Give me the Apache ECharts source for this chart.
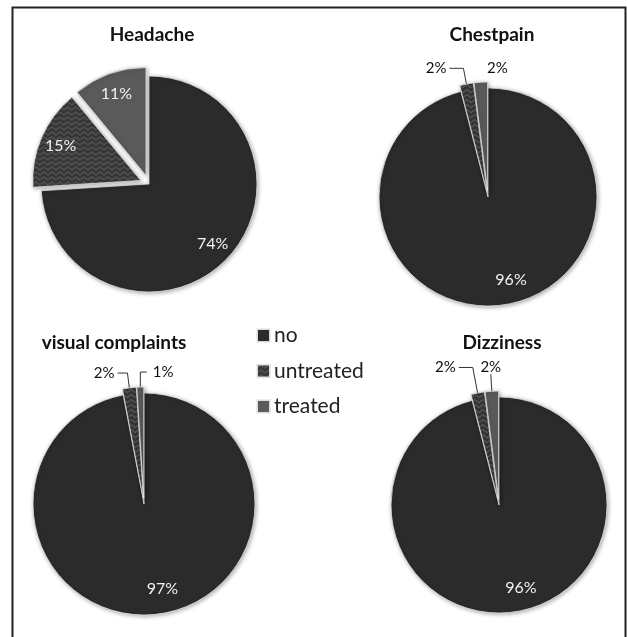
<!DOCTYPE html>
<html>
<head>
<meta charset="utf-8">
<script src="https://cdn.jsdelivr.net/npm/echarts@6/dist/echarts.min.js"></script>
<style>
html,body{margin:0;padding:0;background:#fff;}
#c{width:628px;height:637px;}
</style>
</head>
<body>
<div id="c"></div>
<script>
// ---- data ----
const categories = ['no', 'untreated', 'treated'];
const headache = [74, 15, 11];
const chestpain = [96, 2, 2];
const visual = [97, 2, 1];
const dizziness = [96, 2, 2];
const titles = ['Headache', 'Chestpain', 'visual complaints', 'Dizziness'];

// ---- styles ----
const FONT = 'Lato, "Open Sans", sans-serif';
function zigzag() {
  const cv = document.createElement('canvas');
  cv.width = 8; cv.height = 5;
  const g = cv.getContext('2d');
  g.fillStyle = '#363636'; g.fillRect(0, 0, 8, 5);
  g.strokeStyle = '#6e6e6e'; g.lineWidth = 1;
  g.beginPath(); g.moveTo(0, 3.5); g.lineTo(4, 0.5); g.lineTo(8, 3.5); g.stroke();
  return cv;
}
const colors = ['#2b2b2b', {image: zigzag(), repeat: 'repeat'}, '#5a5a5a'];

const pies = [
  {values: headache, center: [149, 184], r: 108, offset: 9, selected: [false, true, true], outside: {}, inShift: [0, 0]},
  {values: chestpain, center: [488, 197], r: 109, offset: 6, selected: [false, true, true], inShift: [12, -4],
    outside: {1: {len: 16, len2: 14, line: true}, 2: {len: 7, len2: 0, line: false, center: true, dx: 20}}},
  {values: visual, center: [144, 504], r: 111, offset: 6, selected: [false, true, true], inShift: [10, -4],
    outside: {1: {len: 15, len2: 10, line: true}, 2: {len: 15, len2: -7, line: true, right: true}}},
  {values: dizziness, center: [499, 505], r: 108, offset: 6, selected: [false, true, true], inShift: [11, -4],
    outside: {1: {len: 26, len2: 14, line: true}, 2: {len: 17, len2: 0, line: true, center: true, dx: 3}}}
];

const series = [];
pies.forEach(function (p) {
  const mainData = p.values.map(function (v, i) {
    const o = p.outside[i];
    return {
      name: categories[i], value: v, selected: p.selected[i],
      itemStyle: {color: colors[i]},
      label: {show: !!o},
      labelLine: o ? {show: o.line, length: o.len, length2: o.len2} : {show: false}
    };
  });
  series.push({
    type: 'pie', center: p.center, radius: [0, p.r], startAngle: 90, clockwise: true,
    selectedMode: 'multiple', selectedOffset: p.offset, avoidLabelOverlap: false,
    emphasis: {disabled: true}, silent: true, animation: false,
    itemStyle: {borderColor: 'rgba(235,235,235,0.9)', borderWidth: 0.8,
      shadowBlur: 4, shadowColor: 'rgba(0,0,0,0.35)', shadowOffsetX: 1, shadowOffsetY: 1},
    label: {position: 'outside', formatter: '{c}%', color: '#111', fontSize: 15, fontFamily: FONT, distanceToLabelLine: 3},
    labelLine: {lineStyle: {color: '#333', width: 1}},
    labelLayout: function (params) {
      const o = p.outside[params.dataIndex];
      if (!o) return {};
      if (o.center) return {align: 'center', verticalAlign: 'bottom', dx: o.dx || 0};
      if (o.right) return {align: 'left', dx: 9};
      return {};
    },
    data: mainData
  });
  // label ring (inner labels only)
  series.push({
    type: 'pie', center: p.center, radius: [p.r * 0.56, p.r], startAngle: 90, clockwise: true,
    selectedMode: 'multiple', selectedOffset: p.offset, avoidLabelOverlap: false,
    emphasis: {disabled: true}, silent: true, animation: false,
    itemStyle: {color: 'rgba(0,0,0,0)'},
    label: {position: 'inside', formatter: '{c}%', color: '#f2f2f2', fontSize: 16, fontFamily: FONT},
    labelLine: {show: false},
    labelLayout: function (params) {
      return params.dataIndex === 0 ? {dx: p.inShift[0], dy: p.inShift[1]} : {};
    },
    data: p.values.map(function (v, i) {
      return {name: categories[i], value: v, selected: p.selected[i],
        label: {show: !p.outside[i]}};
    })
  });
});

const titlePos = [[147, 20], [487, 20], [109, 328], [497, 328]];
const chart = echarts.init(document.getElementById('c'), null, {renderer: 'canvas'});
chart.setOption({
  backgroundColor: '#fff',
  animation: false,
  title: titles.map(function (t, i) {
    return {text: t, left: titlePos[i][0], top: titlePos[i][1], textAlign: 'center',
      textStyle: {fontFamily: FONT, fontWeight: 'bold', fontSize: 19, color: '#111'}};
  }),
  legend: {
    orient: 'vertical', left: 251, top: 320, itemGap: 14.5, itemWidth: 13, itemHeight: 13,
    icon: 'rect', selectedMode: false, data: categories,
    textStyle: {fontFamily: FONT, fontSize: 21, color: '#222', padding: [0, 0, 0, -1]}
  },
  graphic: [{
    type: 'rect', shape: {x: 12.5, y: 7.5, width: 613, height: 640},
    style: {fill: 'none', stroke: '#222', lineWidth: 2}, silent: true
  }],
  series: series
});
</script>
</body>
</html>
